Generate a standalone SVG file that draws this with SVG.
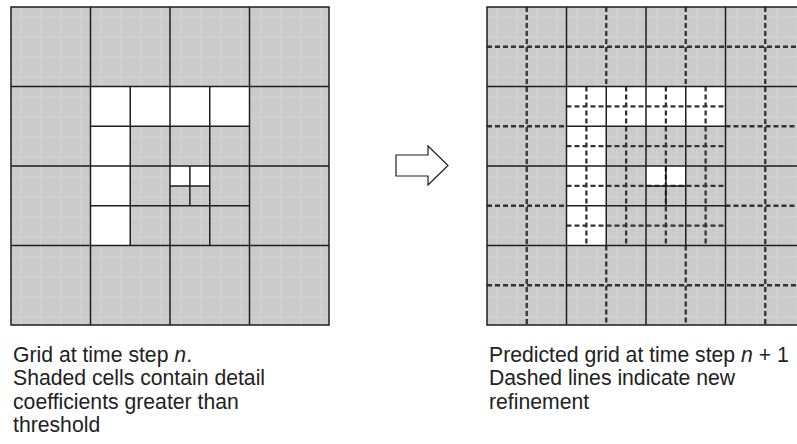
<svg xmlns="http://www.w3.org/2000/svg" width="797" height="444" viewBox="0 0 797 444">
<style>
.solid{stroke:#1e1e1e;stroke-width:1.5;fill:none}
.dash{stroke:#333333;stroke-width:2.3;stroke-dasharray:5 3;fill:none}
.white{fill:#ffffff;stroke:none}
.cap{font-family:"Liberation Sans",Arial,sans-serif;font-size:21.2px;fill:#222222}
.it{font-style:italic}
</style>
<defs>
<pattern id="tex" patternUnits="userSpaceOnUse" width="20" height="20">
<rect width="20" height="20" fill="#cbcbcb"/>
<path d="M10 0V20M0 10H20" stroke="#d5d5d5" stroke-width="1"/>
</pattern>
<g id="cells">
<rect x="0" y="0" width="318" height="318" fill="url(#tex)"/>
<rect class="white" x="79.5" y="79.5" width="159" height="39.75"/>
<rect class="white" x="79.5" y="119.25" width="39.75" height="119.25"/>
<rect class="white" x="159" y="159" width="39.75" height="19.875"/>
</g>
<g id="solidlines">
<path class="solid" d="M79.5 0V318M159 0V318M238.5 0V318M0 79.5H318M0 159H318M0 238.5H318
M119.25 79.5V238.5M198.75 79.5V238.5M79.5 119.25H238.5M79.5 198.75H238.5
M178.875 159V198.75M159 178.875H198.75"/>
</g>
</defs>

<g id="grid-n">
<g transform="translate(11,7)">
<use href="#cells"/>
<use href="#solidlines"/>
<rect class="solid" x="0" y="0" width="318" height="318"/>
</g>
</g>

<g id="arrow">
<polygon points="396,155 428,155 428,146 448,165.5 428,185 428,176 396,176" fill="#ffffff" stroke="#1e1e1e" stroke-width="1.2"/>
</g>

<g id="grid-n1">
<g transform="translate(487,7)">
<use href="#cells"/>
<g id="connectors">
<path class="dash" d="M39.75 0V318M278.25 0V318M119.25 0V79.5M119.25 238.5V318M198.75 0V79.5M198.75 238.5V318
M0 39.75H318M0 278.25H318M0 119.25H79.5M238.5 119.25H318M0 198.75H79.5M238.5 198.75H318
M99.375 79.5V238.5M139.125 79.5V238.5M178.875 79.5V238.5M218.625 79.5V238.5
M79.5 99.375H238.5M79.5 139.125H238.5M79.5 178.875H238.5M79.5 218.625H238.5"/>
</g>
<use href="#solidlines"/>
<rect class="solid" x="0" y="0" width="318" height="318"/>
</g>
</g>

<g id="caption-left">
<text class="cap" x="13" y="362">Grid at time step <tspan class="it">n</tspan>.</text>
<text class="cap" x="13" y="385.3">Shaded cells contain detail</text>
<text class="cap" x="13" y="408.6">coefficients greater than</text>
<text class="cap" x="13" y="431.9">threshold</text>
</g>

<g id="caption-right">
<text class="cap" x="489" y="362">Predicted grid at time step <tspan class="it">n</tspan> + 1</text>
<text class="cap" x="489" y="385.3">Dashed lines indicate new</text>
<text class="cap" x="489" y="408.6">refinement</text>
</g>
</svg>
